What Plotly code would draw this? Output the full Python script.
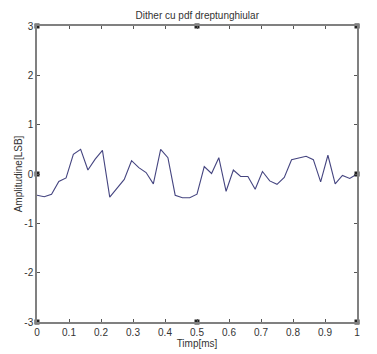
import plotly.graph_objects as go

time_ms = [0, 0.0227, 0.0455, 0.0682, 0.0909, 0.1136, 0.1364, 0.1591, 0.1818, 0.2045,
           0.2273, 0.25, 0.2727, 0.2955, 0.3182, 0.3409, 0.3636, 0.3864, 0.4091, 0.4318,
           0.4545, 0.4773, 0.5, 0.5227, 0.5455, 0.5682, 0.5909, 0.6136, 0.6364, 0.6591,
           0.6818, 0.7045, 0.7273, 0.75, 0.7727, 0.7955, 0.8182, 0.8409, 0.8636, 0.8864,
           0.9091, 0.9318, 0.9545, 0.9773, 1.0]
amplitude = [-0.43, -0.46, -0.41, -0.15, -0.08, 0.40, 0.50, 0.08, 0.30, 0.48,
             -0.47, -0.29, -0.11, 0.27, 0.13, 0.03, -0.20, 0.50, 0.33, -0.43,
             -0.48, -0.48, -0.41, 0.15, 0.01, 0.33, -0.35, 0.08, -0.05, -0.05,
             -0.31, 0.05, -0.14, -0.21, -0.07, 0.29, 0.33, 0.36, 0.29, -0.16,
             0.38, -0.20, -0.03, -0.09, 0.0]

# small square glyphs visible on the axes of the reference
glyph_x = [0, 0.5, 1, 0, 0.5, 1, 0, 1]
glyph_y = [3, 3, 3, -3, -3, -3, 0, 0]

x_ticks = [0, 0.1, 0.2, 0.3, 0.4, 0.5, 0.6, 0.7, 0.8, 0.9, 1]
x_tick_text = ["0", "0.1", "0.2", "0.3", "0.4", "0.5", "0.6", "0.7", "0.8", "0.9", "1"]
y_ticks = [-3, -2, -1, 0, 1, 2, 3]
y_tick_text = ["-3", "-2", "-1", "0", "1", "2", "3"]

font_family = "Liberation Sans, Arial, sans-serif"

fig = go.Figure()
fig.add_trace(go.Scatter(x=time_ms, y=amplitude, mode="lines",
                         line=dict(color="#454580", width=1.1), showlegend=False))
fig.add_trace(go.Scatter(x=glyph_x, y=glyph_y, mode="markers", cliponaxis=False,
                         marker=dict(symbol="square", size=5, color="#222222"),
                         showlegend=False, hoverinfo="skip"))

# the page body adds an 8px offset, so the figure is 8px smaller
fig.update_layout(
    width=369, height=346,
    margin=dict(l=29, r=20, t=18, b=32, autoexpand=False),
    paper_bgcolor="white", plot_bgcolor="white",
    font=dict(family=font_family, size=10, color="#333333"),
    title=dict(text="Dither cu pdf dreptunghiular", x=0.513, xanchor="center",
               y=0.978, yanchor="middle", font=dict(size=10, color="#333333")),
)
axis_common = dict(showgrid=False, zeroline=False, showline=True, linecolor="#808080",
                   linewidth=1.5, mirror="ticks", ticks="inside", ticklen=3,
                   tickcolor="#555555", tickfont=dict(size=10, color="#333333"),
                   automargin=False)
fig.update_xaxes(range=[0, 1], tickvals=x_ticks, ticktext=x_tick_text, ticklabelstandoff=0,
                 title=dict(text="Timp[ms]", standoff=0, font=dict(size=10)), **axis_common)
fig.update_yaxes(range=[-3, 3], tickvals=y_ticks, ticktext=y_tick_text,
                 title=dict(text="Amplitudine[LSB]", standoff=0, font=dict(size=10)), **axis_common)

fig.write_html("out.html")
